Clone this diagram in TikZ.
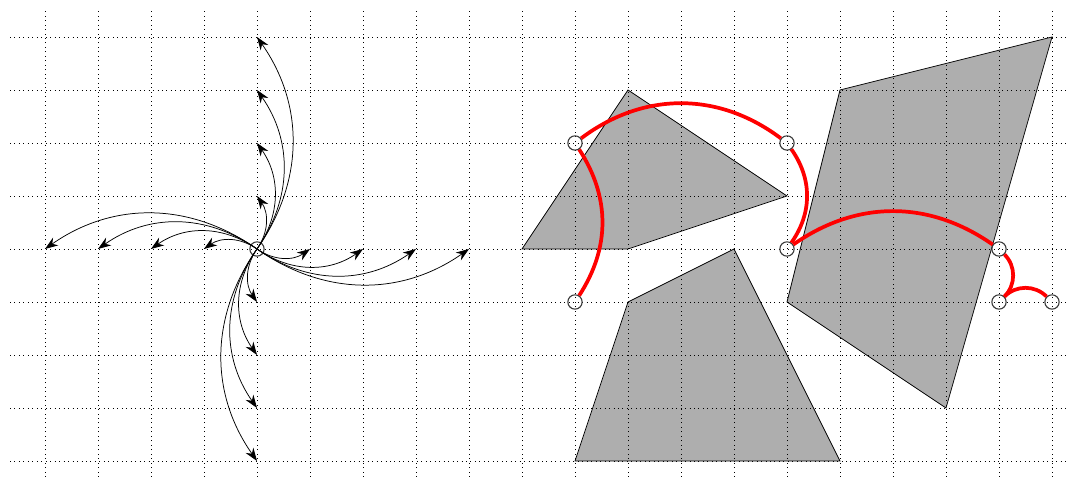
\documentclass[tikz,border=0pt]{standalone}
\usetikzlibrary{arrows.meta}
\definecolor{ObstacleFill}{HTML}{AEAEAE}
\definecolor{RingGray}{HTML}{3A3A3A}
\tikzset{
  gridline/.style={dotted, black},
  obstacle/.style={fill=ObstacleFill, draw=black, thin},
  ring/.style={circle, draw=RingGray, semithick, minimum size=0.27cm, inner sep=0pt},
  spoke/.style={-{Stealth[length=7pt,width=5pt]}, black, thin},
  route/.style={red, line width=2pt},
}

\begin{document}
\begin{tikzpicture}
  \useasboundingbox (-0.849,-0.34) rectangle (19.302,8.698);

  %% obstacles
  \filldraw[obstacle] (9,4) -- (11,4) -- (14,5) -- (11,7) -- cycle;
  \filldraw[obstacle] (10,0) -- (15,0) -- (13,4) -- (11,3) -- cycle;
  \filldraw[obstacle] (14,3) -- (17,1) -- (19,8) -- (15,7) -- cycle;

  %% grid
  \foreach \i in {0,...,19}
    \draw[gridline] (\i,-0.3) -- (\i,8.55);
  \foreach \j in {0,...,8}
    \draw[gridline] (-0.66,\j) -- (19.25,\j);

  %% pinwheel
  \node[ring] (hub) at (4,4) {};
  \foreach \d in {1,...,4} {
    \coordinate (west\d) at (4-\d,4);
    \coordinate (east\d) at (4+\d,4);
    \coordinate (north\d) at (4,4+\d);
    \coordinate (south\d) at (4,4-\d);
    \draw[spoke] (hub.center) to[bend right=35] (west\d);
    \draw[spoke] (hub.center) to[bend right=35] (east\d);
    \draw[spoke] (hub.center) to[bend right=35] (north\d);
    \draw[spoke] (hub.center) to[bend right=35] (south\d);
  }

  %% route
  \node[ring] (p1) at (10,3) {};
  \node[ring] (p2) at (10,6) {};
  \node[ring] (p3) at (14,6) {};
  \node[ring] (p4) at (14,4) {};
  \node[ring] (p5) at (18,4) {};
  \node[ring] (p6) at (18,3) {};
  \node[ring] (p7) at (19,3) {};
  \draw[route] (p1) to[bend right=33] (p2);
  \draw[route] (p2) to[bend left=37] (p3);
  \draw[route] (p3) to[bend left=35] (p4);
  \draw[route] (p4) to[bend left=35] (p5);
  \draw[route] (p5) to[bend left=45] (p6);
  \draw[route] (p6) to[bend left=45] (p7);
\end{tikzpicture}
\end{document}
